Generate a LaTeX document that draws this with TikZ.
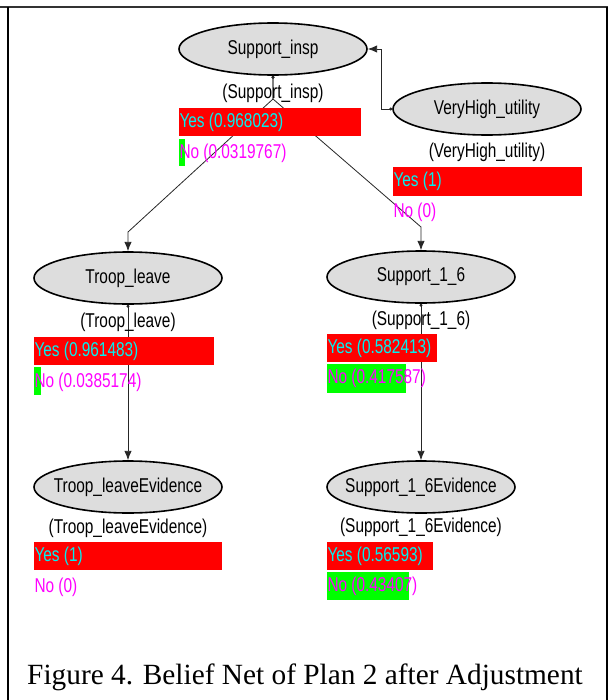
\documentclass[tikz,border=0pt]{standalone}
\usepackage{fontspec}
\newfontfamily\netfont[FakeStretch=0.77]{Liberation Sans}
\newfontfamily\capfont{Liberation Serif}
\usetikzlibrary{shapes.geometric,arrows.meta}

\definecolor{nodegray}{RGB}{221,221,221}
\definecolor{yescyan}{RGB}{0,240,240}
\definecolor{nomagenta}{RGB}{255,0,255}
\definecolor{yesred}{RGB}{255,0,0}
\definecolor{nogreen}{RGB}{0,255,0}

\tikzset{
	every picture/.style={line width=0.75pt},
	netfnt/.style={font=\netfont\fontsize{15}{17}\selectfont},
	bnnode/.style={ellipse, draw=black, line width=1.2pt, fill=nodegray,
		minimum width=141pt, minimum height=39pt, inner sep=0pt, netfnt,
		execute at begin node={\hbox to 0pt\bgroup\hss},
		execute at end node={\hss\egroup}},
	bnlabel/.style={netfnt, inner sep=0pt},
	yestext/.style={netfnt, text=yescyan, anchor=west, inner sep=0pt},
	notext/.style={netfnt, text=nomagenta, anchor=west, inner sep=0pt},
	yesbar/.style={fill=yesred},
	nobar/.style={fill=nogreen},
	link/.style={draw=black!85, line width=0.6pt,
		arrows={Circle[length=2.2pt]-Latex[length=7pt,width=5.5pt]}}}

\begin{document}
\begin{tikzpicture}[x=0.75pt,y=0.75pt,yscale=-1,xscale=1]
	\useasboundingbox (0,0) rectangle (608,700);

	%Frame
	\draw [line width=1.5pt, color=black!80] (0,7) -- (608,7);
	\draw [line width=1.5pt] (8,7) -- (8,700);
	\draw [line width=1.2pt] (607,7) -- (607,700);

	%Shape: Ellipse
	\node [bnnode] (si) at (273,49) {Support\_insp};
	\node [bnnode] (vh) at (487,109) {VeryHigh\_utility};
	\node [bnnode] (tl) at (128,278) {Troop\_leave};
	\node [bnnode] (s16) at (421,277) {Support\_1\_6};
	\node [bnnode] (te) at (128,487) {Troop\_leaveEvidence};
	\node [bnnode] (se) at (421,487) {Support\_1\_6Evidence};

	%Links
	\coordinate (fork) at (273,99);
	\coordinate (tlbend) at (128,232);
	\coordinate (s16bend) at (421,227);
	\draw [link] (si.south) -- (fork) -- (tlbend) -- (tl.north);
	\draw [link] (si.south) -- (fork) -- (s16bend) -- (s16.north);
	\draw [link] (vh.west) -- ++(-11,0) |- (si.east);
	\draw [link] (tl.south) -- (te.north);
	\draw [link] (s16.south) -- (se.north);

	%Shape: Rectangle
	\fill [yesbar] (179,108) rectangle (361,136);
	\fill [nobar] (179,139) rectangle (185,166);
	\fill [yesbar] (393,167) rectangle (582,196);
	\fill [yesbar] (34,337) rectangle (214,365);
	\fill [nobar] (34,367) rectangle (41,395);
	\fill [yesbar] (327,334) rectangle (437,362);
	\fill [nobar] (327,364) rectangle (406,393);
	\fill [yesbar] (34,542) rectangle (222,570);
	\fill [yesbar] (327,542) rectangle (433,570);
	\fill [nobar] (327,572) rectangle (409,600);

	% Text Node
	\node [bnlabel] (si-lab) at (273,93) {(Support\_insp)};
	\node [yestext] (si-yes) at (179,122) {Yes (0.968023)};
	\node [notext] (si-no) at (179,153) {No (0.0319767)};
	% Text Node
	\node [bnlabel] (vh-lab) at (487,152) {(VeryHigh\_utility)};
	\node [yestext] (vh-yes) at (393,181) {Yes (1)};
	\node [notext] (vh-no) at (393,212) {No (0)};
	% Text Node
	\node [bnlabel] (tl-lab) at (128,322) {(Troop\_leave)};
	\node [yestext] (tl-yes) at (34,351) {Yes (0.961483)};
	\node [notext] (tl-no) at (34,382) {No (0.0385174)};
	% Text Node
	\node [bnlabel] (s16-lab) at (421,320) {(Support\_1\_6)};
	\node [yestext] (s16-yes) at (327,348) {Yes (0.582413)};
	\node [notext] (s16-no) at (327,378) {No (0.417587)};
	% Text Node
	\node [bnlabel] (te-lab) at (128,528) {(Troop\_leaveEvidence)};
	\node [yestext] (te-yes) at (34,556) {Yes (1)};
	\node [notext] (te-no) at (34,587) {No (0)};
	% Text Node
	\node [bnlabel] (se-lab) at (421,527) {(Support\_1\_6Evidence)};
	\node [yestext] (se-yes) at (327,556) {Yes (0.56593)};
	\node [notext] (se-no) at (327,586) {No (0.43407)};

	% Caption
	\node [font=\capfont\fontsize{22}{26}\selectfont, anchor=base] (cap) at (305,684) {Figure 4. Belief Net of Plan 2 after Adjustment};

\end{tikzpicture}
\end{document}
